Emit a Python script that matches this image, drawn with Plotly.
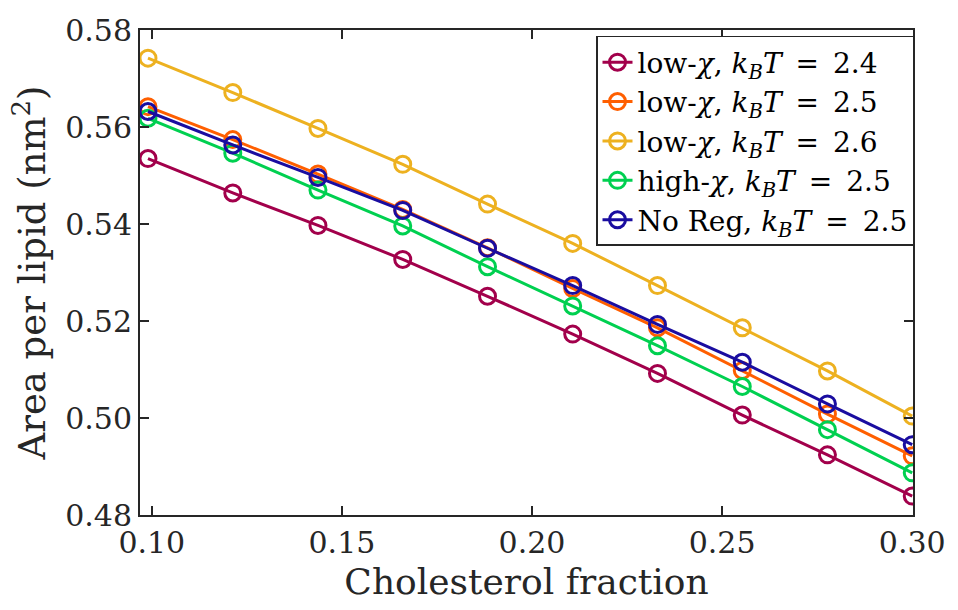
import plotly.graph_objects as go

# Cholesterol fraction (x) shared by every series
chol_fraction = [0.099, 0.1213, 0.1437, 0.166, 0.1883, 0.2107, 0.233, 0.2553, 0.2777, 0.3]

# Area per lipid (nm^2) for each model / temperature
low_chi_24 = [0.5535, 0.5464, 0.5397, 0.5327, 0.5251, 0.5173, 0.5092, 0.5006, 0.4924, 0.4839]
low_chi_25 = [0.5642, 0.5574, 0.5503, 0.5430, 0.5351, 0.5267, 0.5186, 0.5098, 0.5008, 0.4922]
low_chi_26 = [0.5742, 0.5671, 0.5597, 0.5523, 0.5441, 0.5360, 0.5273, 0.5186, 0.5097, 0.5004]
high_chi_25 = [0.5618, 0.5546, 0.5470, 0.5396, 0.5312, 0.5231, 0.5149, 0.5065, 0.4976, 0.4887]
no_reg_25 = [0.5632, 0.5563, 0.5496, 0.5428, 0.5350, 0.5273, 0.5193, 0.5115, 0.5029, 0.4945]

EQ = "\u2002=\u2002"
KBT = "<i>k</i><sub><i>B</i></sub><i>T</i>"
series_names = [
    f"low-<i>χ</i>, {KBT}{EQ}2.4",
    f"low-<i>χ</i>, {KBT}{EQ}2.5",
    f"low-<i>χ</i>, {KBT}{EQ}2.6",
    f"high-<i>χ</i>, {KBT}{EQ}2.5",
    f"No Reg, {KBT}{EQ}2.5",
]
series_values = [low_chi_24, low_chi_25, low_chi_26, high_chi_25, no_reg_25]
series_colors = ["#A2004B", "#FF5F00", "#EDB120", "#00D050", "#1A0DA0"]

x_ticks = [0.10, 0.15, 0.20, 0.25, 0.30]
y_ticks = [0.48, 0.50, 0.52, 0.54, 0.56, 0.58]

FONT = "DejaVu Serif"
INK = "#262626"

fig = go.Figure()
for name, vals, col in zip(series_names, series_values, series_colors):
    fig.add_trace(go.Scatter(
        x=chol_fraction, y=vals, name=name, mode="lines+markers",
        line=dict(color=col, width=3),
        marker=dict(symbol="circle-open", size=16, color=col, line=dict(width=3, color=col)),
    ))

axis_common = dict(
    showline=True, linecolor=INK, linewidth=2, mirror="ticks",
    ticks="inside", ticklen=9, tickwidth=2, tickcolor=INK,
    showgrid=False, zeroline=False,
    tickfont=dict(family=FONT, size=30, color=INK),
    tickformat=".2f",
)

fig.update_layout(
    width=958, height=610,
    margin=dict(l=140, r=36, t=26, b=95),
    paper_bgcolor="white", plot_bgcolor="white",
    font=dict(family=FONT),
    xaxis=dict(range=[0.0969, 0.3002], tickvals=x_ticks,
               title=dict(text="Cholesterol fraction", font=dict(family=FONT, size=36, color=INK), standoff=10),
               **axis_common),
    yaxis=dict(range=[0.48, 0.58], tickvals=y_ticks,
               title=dict(text="Area per lipid (nm<sup>2</sup>)", font=dict(family=FONT, size=37, color=INK), standoff=8),
               **axis_common),
    legend=dict(
        x=1.0013, y=0.9877, xanchor="right", yanchor="top",
        bgcolor="white", bordercolor=INK, borderwidth=1.5,
        font=dict(family=FONT, size=28, color="black"),
        itemwidth=30, tracegroupgap=0,
    ),
    showlegend=True,
)

fig.write_html("out.html")
